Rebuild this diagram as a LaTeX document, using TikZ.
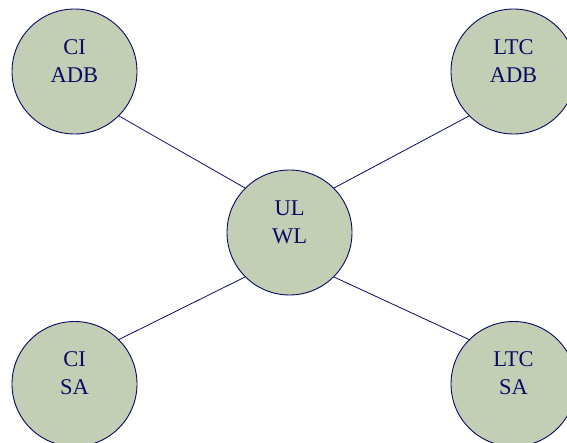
\documentclass[tikz,border=0pt]{standalone}
\usepackage{fontspec}
\setmainfont{Liberation Serif}
\definecolor{sage}{RGB}{195,207,180}
\definecolor{navy}{RGB}{10,10,100}
\begin{document}
\begin{tikzpicture}[x=1pt,y=1pt,
  bubble/.style={circle,draw=navy,fill=sage,line width=0.9pt,minimum size=125pt,inner sep=0pt},
  tag/.style={text=navy,align=center,yshift=10.5pt,font=\fontsize{22.5}{27.7}\selectfont},
  link/.style={navy,line width=0.8pt}]
\useasboundingbox (0,0) rectangle (567,-443);
\node [bubble,label={[tag]center:CI\\ADB}] (ciadb) at (74.5,-71.5) {};
\node [bubble,label={[tag]center:LTC\\ADB}] (ltcadb) at (513.5,-71.5) {};
\node [bubble,label={[tag]center:UL\\WL}] (ulwl) at (289.5,-232.5) {}; %hub
\node [bubble,label={[tag]center:CI\\SA}] (cisa) at (74.5,-384) {};
\node [bubble,label={[tag]center:LTC\\SA}] (ltcsa) at (513.5,-384) {};
\draw [link] (ciadb.south east) -- (ulwl.north west);
\draw [link] (ltcadb.south west) -- (ulwl.north east);
\draw [link] (cisa.north east) -- (ulwl.south west);
\draw [link] (ltcsa.north west) -- (ulwl.south east);
\end{tikzpicture}
\end{document}
